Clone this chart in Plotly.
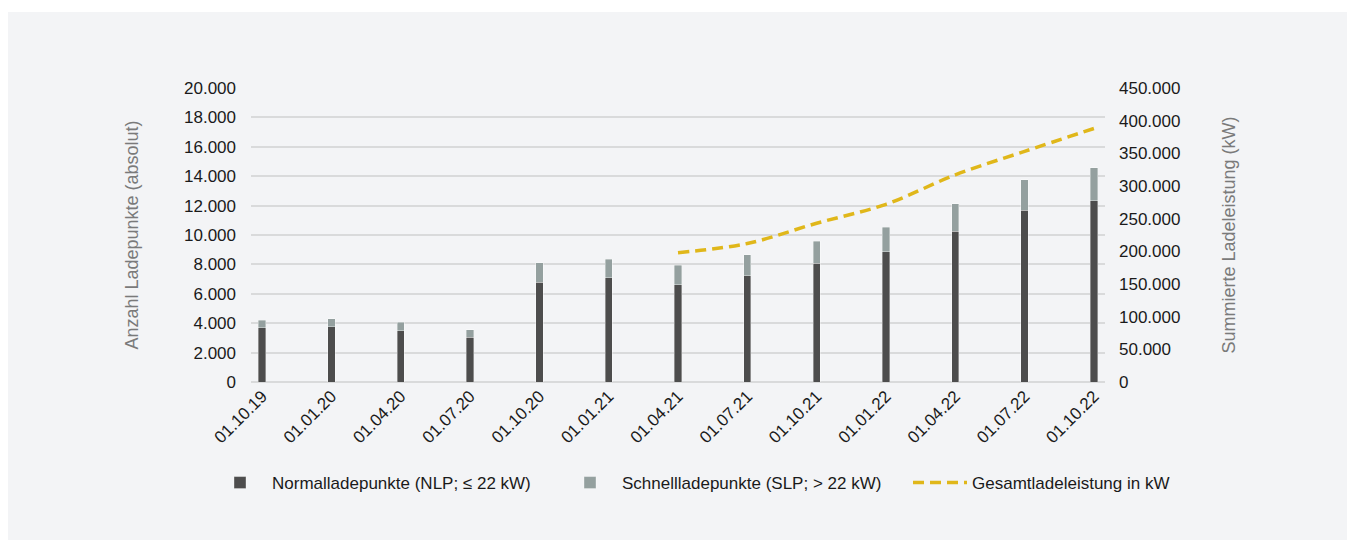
import plotly.graph_objects as go

categories = ["01.10.19", "01.01.20", "01.04.20", "01.07.20", "01.10.20", "01.01.21", "01.04.21",
              "01.07.21", "01.10.21", "01.01.22", "01.04.22", "01.07.22", "01.10.22"]
nlp = [3680, 3750, 3480, 3050, 6800, 7090, 6610, 7230, 8070, 8860, 10250, 11700, 12320]
total = [4200, 4320, 4050, 3550, 8110, 8360, 7950, 8640, 9570, 10520, 12110, 13750, 14570]
slp = [t - n for t, n in zip(total, nlp)]
leistung = [None, None, None, None, None, None, 198000, 212000, 243000, 272000, 317000, 353000, 388000]

# page has an 8px body margin; figure coordinates = page coordinates - 8
OFF = 8
W, H = 1355 - 2 * OFF, 550 - 2 * OFF
L, R, T, B = 251 - OFF, 1105 - OFF, 88 - OFF, 382 - OFF
pw, ph = R - L, B - T

def px(x):
    return (x - OFF - L) / pw

def py(y):
    return (B - (y - OFF)) / ph

font_name = "Liberation Sans, Arial, sans-serif"

fig = go.Figure()
fig.add_trace(go.Bar(x=categories, y=nlp, name="Normalladepunkte (NLP; ≤ 22 kW)",
                     marker=dict(color="#4d4d4d", line=dict(width=0.8, color="rgba(255,255,255,0.45)")),
                     width=0.105))
fig.add_trace(go.Bar(x=categories, y=slp, name="Schnellladepunkte (SLP; > 22 kW)",
                     marker=dict(color="#94a09f", line=dict(width=0.8, color="rgba(255,255,255,0.45)")),
                     width=0.105))
fig.add_trace(go.Scatter(x=categories, y=leistung, name="Gesamtladeleistung in kW", yaxis="y2",
                         mode="lines", line=dict(color="#e0b71a", width=3.5, dash="11px,6px", shape="spline"),
                         connectgaps=False))

fig.update_layout(
    width=W, height=H,
    margin=dict(l=L, r=W - R, t=T, b=H - B, pad=0),
    barmode="stack",
    paper_bgcolor="white",
    plot_bgcolor="rgba(0,0,0,0)",
    separators=",.",
    font=dict(family=font_name, size=17, color="#1a1a1a"),
    shapes=[dict(type="rect", xref="paper", yref="paper", layer="below",
                 x0=px(8), x1=px(1347), y0=py(540), y1=py(12),
                 fillcolor="#f3f4f6", line=dict(width=0))],
    xaxis=dict(type="category", range=[-0.16, 12.16], tickangle=-45, showgrid=False,
               showline=False, ticks="", tickfont=dict(size=17, color="#1a1a1a")),
    yaxis=dict(range=[0, 20000], dtick=2000, tickformat=",.0f", showgrid=True,
               gridcolor="#d9dadb", gridwidth=1.5, zeroline=True, zerolinecolor="#d9dadb",
               zerolinewidth=1.5, ticks="", ticklabelstandoff=14,
               tickfont=dict(size=17, color="#1a1a1a"),
               title=dict(text="Anzahl Ladepunkte (absolut)", font=dict(size=18, color="#7a7a7a"),
                          standoff=40)),
    yaxis2=dict(range=[0, 450000], dtick=50000, tickformat=",.0f", overlaying="y", side="right",
                showgrid=False, zeroline=False, ticks="", ticklabelstandoff=13,
                tickfont=dict(size=17, color="#1a1a1a"),
                title=dict(text="Summierte Ladeleistung (kW)", font=dict(size=18, color="#7a7a7a"),
                           standoff=42)),
    legend=dict(orientation="h", x=px(208), xanchor="left", y=py(483), yanchor="middle",
                bgcolor="rgba(0,0,0,0)", font=dict(size=17, color="#1a1a1a"), traceorder="normal",
                itemwidth=54, entrywidth=281, entrywidthmode="pixels"),
)

fig.write_html("out.html")
